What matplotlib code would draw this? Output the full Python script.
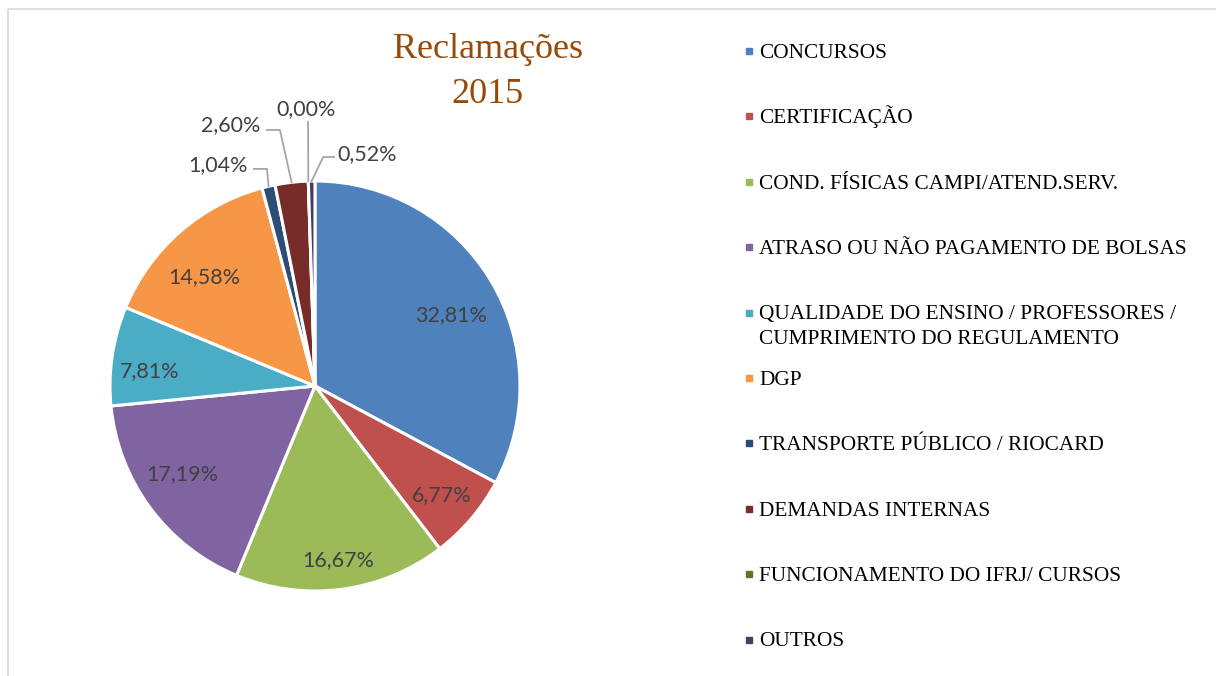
import numpy as np
import matplotlib.pyplot as plt

# data
categories = ['CONCURSOS',
              'CERTIFICAÇÃO',
              'COND. FÍSICAS CAMPI/ATEND.SERV.',
              'ATRASO OU NÃO PAGAMENTO DE BOLSAS',
              'QUALIDADE DO ENSINO / PROFESSORES /\nCUMPRIMENTO DO REGULAMENTO',
              'DGP',
              'TRANSPORTE PÚBLICO / RIOCARD',
              'DEMANDAS INTERNAS',
              'FUNCIONAMENTO DO IFRJ/ CURSOS',
              'OUTROS']
shares = [32.81, 6.77, 16.67, 17.19, 7.81, 14.58, 1.04, 2.60, 0.00, 0.52]
colors = ['#4F81BD', '#C0504D', '#9BBB59', '#8064A2', '#4BACC6',
          '#F79646', '#2C4D75', '#772C2A', '#5F7530', '#4D3B62']
title = 'Reclamações\n2015'

W, H = 1216, 676
cx, cy, r = 315, 386, 205          # pie centre / radius in pixels
serif = 'Liberation Serif'
sans = 'Lato'
lab_col = '#404040'
lead_col = '#A6A6A6'

fig = plt.figure(figsize=(W / 100, H / 100), dpi=100)

# background axes in pixel units for frame, title and legend
bg = fig.add_axes([0, 0, 1, 1])
bg.set_xlim(0, W)
bg.set_ylim(H, 0)
bg.axis('off')
bg.plot([8, 8], [H, 9], color='#D9D9D9', lw=1.2, solid_capstyle='butt')
bg.plot([8, W], [9, 9], color='#D9D9D9', lw=1.2, solid_capstyle='butt')

# baseline of the last line (multi-line text aligns on its last baseline)
bg.text(487.5, 103, title, ha='center', va='baseline', fontsize=26,
        family=serif, color='#984807', linespacing=1.5)

# legend
for i, (cat, col) in enumerate(zip(categories, colors)):
    yc = 51 + 65.4 * i
    extra = 25 * cat.count('\n')
    bg.plot([749], [yc], marker='s', ms=4.4, color=col, mec=col, ls='none')
    bg.text(759, yc + 6.9 + extra, cat, ha='left', va='baseline', fontsize=15.3,
            family=serif, color='black', linespacing=1.44)

# pie
ax = fig.add_axes([(cx - r) / W, (H - cy - r) / H, 2 * r / W, 2 * r / H])
wedges, _ = ax.pie(shares, colors=colors, startangle=90, counterclock=False,
                   wedgeprops=dict(edgecolor='white', linewidth=2.2))
ax.set_xlim(-1, 1)
ax.set_ylim(-1, 1)
ax.axis('off')

labels = [('%.2f%%' % v).replace('.', ',') for v in shares]
base = 7.5 / r   # shift from digit centre to baseline

inside = {0: (0.663, 0.351), 1: (0.617, -0.524), 2: (0.112, -0.844),
          3: (-0.649, -0.424), 4: (-0.807, 0.080), 5: (-0.541, 0.541)}
for i, (x, y) in inside.items():
    ax.text(x, y - base, labels[i], ha='center', va='baseline',
            fontsize=15.5, family=sans, color=lab_col)

# small slices: label outside with leader line
outside = {6: ((-0.327, 1.085), 'right', [(-0.234, 1.059), (-0.298, 1.059)]),
           7: ((-0.268, 1.278), 'right', [(-0.171, 1.249), (-0.234, 1.249)]),
           8: ((-0.044, 1.359), 'center', [(-0.034, 1.288)]),
           9: ((0.107, 1.141), 'left', [(0.040, 1.117), (0.093, 1.117)])}
for i, ((x, y), ha, pts) in outside.items():
    w = wedges[i]
    th = np.deg2rad((w.theta1 + w.theta2) / 2)
    xs = [np.cos(th)] + [p[0] for p in pts]
    ys = [np.sin(th)] + [p[1] for p in pts]
    ax.plot(xs, ys, color=lead_col, lw=1.3, clip_on=False)
    ax.text(x, y - base, labels[i], ha=ha, va='baseline',
            fontsize=15.5, family=sans, color=lab_col)

fig.savefig('out.png', dpi=100)
